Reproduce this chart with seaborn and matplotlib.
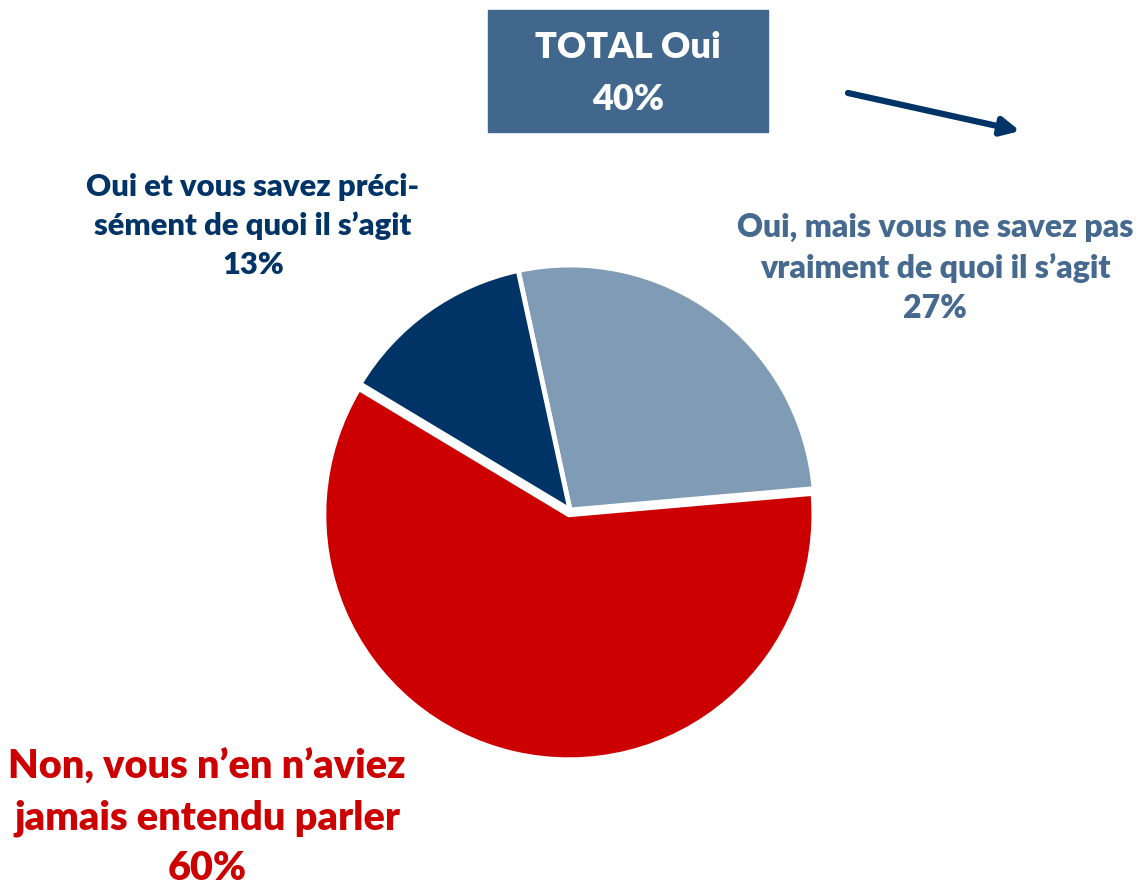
import seaborn as sns
import matplotlib.pyplot as plt
from matplotlib.patches import Rectangle

sns.set_theme(style="white")
plt.rcParams['font.family'] = ['Lato', 'DejaVu Sans']

# data
labels = ["Oui, mais vous ne savez pas\nvraiment de quoi il s\u2019agit",
          "Non, vous n\u2019en n\u2019aviez\njamais entendu parler",
          "Oui et vous savez préci-\nsément de quoi il s\u2019agit"]
values = [27, 60, 13]
colors = ["#7F9BB5", "#CC0000", "#003366"]
text_colors = ["#46698F", "#CC0000", "#003366"]
total_label = "TOTAL Oui"
total_value = sum(v for l, v in zip(labels, values) if l.startswith("Oui"))

W, H = 1140, 885
fig = plt.figure(figsize=(W / 100, H / 100), dpi=100)

# pie axes: center (570, 510), radius 245 px
cx, cy, r = 570, 510, 245
ax = fig.add_axes([(cx - r) / W, (H - cy - r) / H, 2 * r / W, 2 * r / H])
ax.pie(values, colors=colors, startangle=102.2, counterclock=False,
       explode=[0, 0.02, 0], radius=1.0,
       wedgeprops=dict(edgecolor="white", linewidth=3.5))
ax.set_xlim(-1.0, 1.0)
ax.set_ylim(-1.0, 1.0)
ax.axis("off")

# overlay axes in pixel coords
ov = fig.add_axes([0, 0, 1, 1])
ov.set_xlim(0, W)
ov.set_ylim(H, 0)
ov.axis("off")
ov.patch.set_alpha(0)

# total box
ov.add_patch(Rectangle((488, 10), 280, 122, color="#41678C", zorder=1))
ov.text(628, 47, total_label, ha="center", va="center", color="white",
        fontsize=26, fontweight="heavy")
ov.text(628, 99, f"{total_value}%", ha="center", va="center", color="white",
        fontsize=26, fontweight="heavy")

# arrow
ov.annotate("", xy=(1020, 131), xytext=(848, 93),
            arrowprops=dict(arrowstyle="-|>,head_length=0.9,head_width=0.45",
                            color="#003366", lw=4.5, shrinkA=0, shrinkB=0))

# slice labels
pos = [(935, 268), (207, 818), (253, 226)]
sizes = [23, 28.5, 22.3]
for lab, v, (x, y), c, fs in zip(labels, values, pos, text_colors, sizes):
    ov.text(x, y, f"{lab}\n{v}%", ha="center", va="center", color=c,
            fontsize=fs, fontweight="heavy", linespacing=1.45)

fig.savefig("out.png", dpi=100)
